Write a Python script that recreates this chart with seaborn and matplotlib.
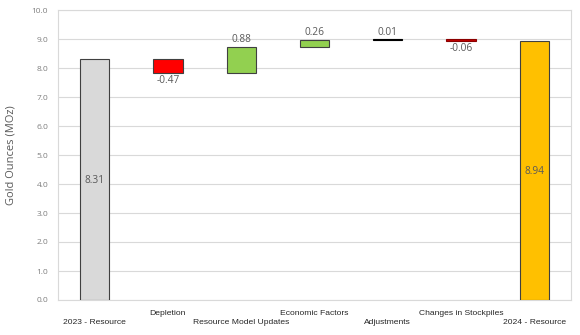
import matplotlib
matplotlib.use("Agg")
import matplotlib.pyplot as plt
import seaborn as sns
import numpy as np
import pandas as pd

categories = ["2023 - Resource", "Depletion", "Resource Model Updates", "Economic Factors",
              "Adjustments", "Changes in Stockpiles", "2024 - Resource"]
changes = [8.31, -0.47, 0.88, 0.26, 0.01, -0.06, 8.94]
kinds = ["total", "delta", "delta", "delta", "delta", "delta", "total"]
colors = ["#D9D9D9", "#FF0000", "#92D050", "#92D050", "#000000", "#C00000", "#FFC000"]
yticks = [0.0, 1.0, 2.0, 3.0, 4.0, 5.0, 6.0, 7.0, 8.0, 9.0, 10.0]

# compute waterfall bottoms/heights
bottoms, heights, running = [], [], 0.0
for v, k in zip(changes, kinds):
    if k == "total":
        bottoms.append(0.0); heights.append(v); running = v
    else:
        lo = min(running, running + v)
        bottoms.append(lo); heights.append(abs(v)); running += v

df = pd.DataFrame({"cat": categories, "height": heights})

sns.set_theme(style="white")
plt.rcParams["font.family"] = ["Open Sans", "DejaVu Sans"]

fig = plt.figure(figsize=(5.8, 3.35), dpi=100)
ax = fig.add_axes([58/580, 1-300/335, (571-58)/580, (300-10)/335])

sns.barplot(data=df, x="cat", y="height", bottom=bottoms, color="#D9D9D9",
            width=0.4, edgecolor="#404040", linewidth=0.8, ax=ax, zorder=3)
for p, c in zip(ax.patches, colors):
    p.set_facecolor(c)
    if c == "#000000":
        p.set_edgecolor("#000000")
    if c == "#C00000":
        p.set_edgecolor("#8B0000")

ax.set_ylim(0, 10)
ax.set_xlim(-0.5, 6.5)
ax.set_yticks(yticks)
ax.set_yticklabels([f"{t:.1f}" for t in yticks], fontsize=6, color="#7F7F7F")
ax.yaxis.grid(True, color="#D9D9D9", linewidth=0.8, zorder=0)
ax.set_axisbelow(True)
for s in ax.spines.values():
    s.set_color("#D9D9D9")
    s.set_linewidth(0.8)

ax.set_xticks(range(len(categories)))
ax.set_xticklabels(categories, fontsize=6.1, color="#262626", family=["Liberation Sans", "DejaVu Sans"],
                   va="top")
ax.tick_params(axis="x", length=0)
for i, t in enumerate(ax.xaxis.get_major_ticks()):
    t.set_pad(14 if i % 2 == 0 else 7.5)
ax.tick_params(axis="y", length=0, pad=7)
ax.set_xlabel("")
ax.set_ylabel("Gold Ounces (MOz)", fontsize=8, color="#595959", labelpad=11)

for i, (v, k, b, h) in enumerate(zip(changes, kinds, bottoms, heights)):
    if k == "total":
        ax.text(i, h / 2 - 0.05, f"{v:.2f}", ha="center", va="center", fontsize=7.3, color="#595959", zorder=4)
    elif v >= 0:
        ax.text(i, b + h + 0.06, f"{v:.2f}", ha="center", va="bottom", fontsize=7.3, color="#595959", zorder=4)
    else:
        ax.text(i, b - 0.08, f"{v:.2f}", ha="center", va="top", fontsize=7.3, color="#595959", zorder=4)

fig.savefig("out.png", dpi=100)
